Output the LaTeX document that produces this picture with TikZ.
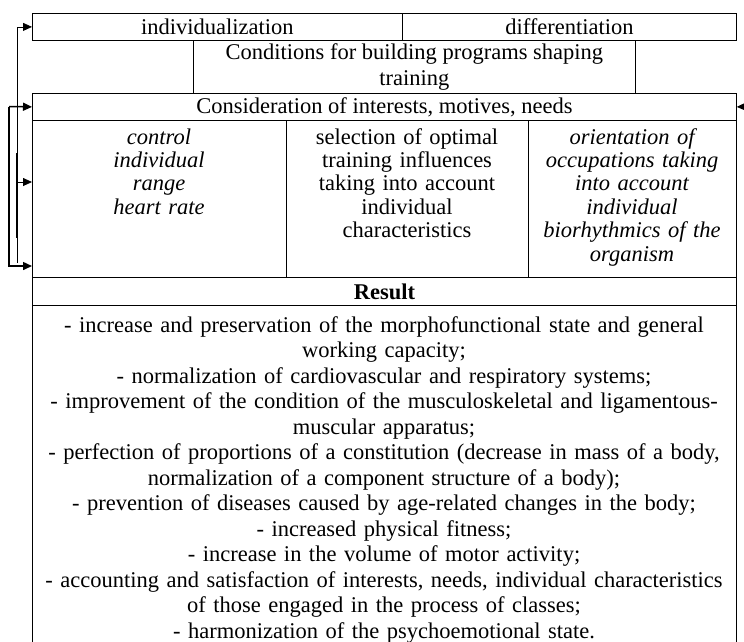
\documentclass[tikz,border=0pt]{standalone}
\usepackage{fontspec}
\setmainfont{Liberation Serif}
\usetikzlibrary{arrows.meta}
\begin{document}
\begin{tikzpicture}[x=1pt,y=-1pt,
  cell/.style={draw, line width=0.8pt, inner sep=0pt, anchor=north west,
    font=\fontsize{22.5}{25.5}\selectfont, align=center},
  coltext/.style={anchor=north, inner sep=0pt, align=center,
    font=\fontsize{22.5}{23.4}\selectfont},
  listtext/.style={anchor=north, inner sep=0pt, align=center, text width=710pt,
    font=\fontsize{22.5}{25.5}\selectfont},
  arr/.style={-{Triangle[length=9pt,width=8pt]}, line width=0.8pt},
  thickarr/.style={-{Triangle[length=9pt,width=8pt]}, line width=1.5pt}
]
\useasboundingbox (0,0) rectangle (744,641);
% top row
\node[cell, minimum width=370pt, minimum height=27pt] (indiv) at (32,13) {individualization};
\node[cell, minimum width=334pt, minimum height=27pt] (diff) at (402,13) {differentiation};
% conditions
\node[cell, minimum width=442pt, minimum height=53pt, font=\fontsize{22.5}{26}\selectfont] (cond) at (193,40) {Conditions for building programs shaping\\training};
% consideration
\node[cell, minimum width=704pt, minimum height=27pt] (consid) at (32,93) {Consideration of interests, motives, needs};
% columns
\node[cell, minimum width=254pt, minimum height=157pt] (col1) at (32,120) {};
\node[cell, minimum width=242pt, minimum height=157pt] (col2) at (286,120) {};
\node[cell, minimum width=208pt, minimum height=157pt] (col3) at (528,120) {};
\node[coltext, font=\fontsize{22.5}{23.4}\selectfont\itshape, text width=240pt] (t1) at (159,127.5)
  {\strut control\\individual\\range\\heart rate};
\node[coltext, text width=236pt] (t2) at (407,127.5)
  {\strut selection of optimal\\training influences\\taking into account\\individual\\characteristics};
\node[coltext, font=\fontsize{22.5}{23.4}\selectfont\itshape, text width=204pt] (t3) at (632,127.5)
  {\strut orientation of\\occupations taking\\into account\\individual\\biorhythmics of the\\organism};
% result
\node[cell, minimum width=704pt, minimum height=28pt, font=\fontsize{22.5}{25.5}\selectfont\bfseries] (res) at (32,277) {Result};
\node[cell, minimum width=704pt, minimum height=360pt] (list) at (32,305) {};
\node[listtext] (lt) at (384,314) {\strut - increase and preservation of the morphofunctional state and general\\
working capacity;\\
- normalization of cardiovascular and respiratory systems;\\
- improvement of the condition of the musculoskeletal and ligamentous-\\
muscular apparatus;\\
- perfection of proportions of a constitution (decrease in mass of a body,\\
normalization of a component structure of a body);\\
- prevention of diseases caused by age-related changes in the body;\\
- increased physical fitness;\\
- increase in the volume of motor activity;\\
- accounting and satisfaction of interests, needs, individual characteristics\\
of those engaged in the process of classes;\\
- harmonization of the psychoemotional state.};
% connectors
\coordinate (railAbot) at (17,263);
\coordinate (railAmid) at (17,182);
\coordinate (col1mid) at (32,182);
\coordinate (railBtop) at (9,106.5);
\coordinate (col1low) at (32,266);
\coordinate (rightin) at (752,106.5);
\draw[arr] (railAbot) |- (indiv.west);
\draw[arr] (railAmid) -- (col1mid);
\draw[line width=1.5pt] (17,153) -- (17,238);
\draw[thickarr] (railBtop) -- (consid.west);
\draw[thickarr] (railBtop) |- (col1low);
\draw[arr] (rightin) -- (consid.east);
\end{tikzpicture}
\end{document}
